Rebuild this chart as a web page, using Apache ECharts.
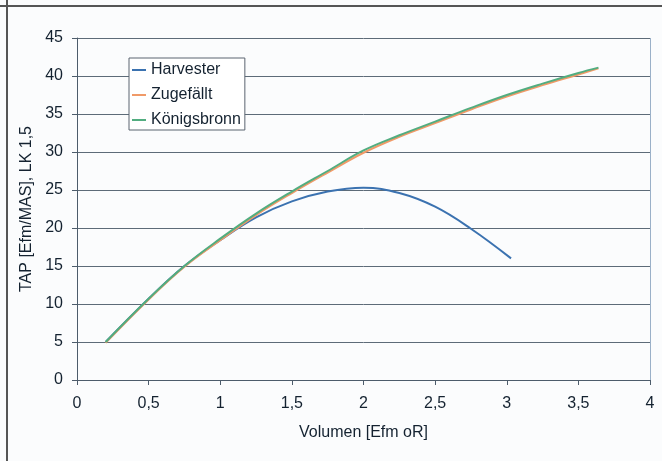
<!DOCTYPE html>
<html><head><meta charset="utf-8">
<script src="https://cdn.jsdelivr.net/npm/echarts@6/dist/echarts.min.js"></script>
<style>html,body{margin:0;padding:0;background:#fbfcfd}#c{width:662px;height:461px}</style>
</head><body><div id="c"></div>
<script>
const xTicks = [0, 0.5, 1, 1.5, 2, 2.5, 3, 3.5, 4];
const yTicks = [0, 5, 10, 15, 20, 25, 30, 35, 40, 45];
const seriesNames = ['Harvester', 'Zugefällt', 'Königsbronn'];
const harvesterX = [0.2, 0.5, 0.75, 1.0, 1.25, 1.5, 1.75, 2.0, 2.25, 2.5, 2.75, 3.03];
const harvesterY = [5.0, 10.7, 15.0, 18.4, 21.4, 23.5, 24.8, 25.3, 24.6, 22.8, 19.9, 16.0];
const zugefaelltX = [0.2, 0.5, 0.75, 1.0, 1.25, 1.5, 1.75, 2.0, 2.25, 2.5, 2.75, 3.0, 3.25, 3.5, 3.64];
const zugefaelltY = [4.9, 10.6, 14.9, 18.4, 21.7, 24.6, 27.3, 29.9, 32.0, 33.8, 35.6, 37.3, 38.8, 40.2, 41.0];
const koenigsbronnX = [0.2, 0.5, 0.75, 1.0, 1.25, 1.5, 1.75, 2.0, 2.25, 2.5, 2.75, 3.0, 3.25, 3.5, 3.64];
const koenigsbronnY = [5.0, 10.7, 15.0, 18.6, 21.9, 24.8, 27.5, 30.2, 32.2, 34.0, 35.8, 37.5, 39.0, 40.4, 41.1];

const colors = ['#3b72b0', '#f09a68', '#52ad80'];
const pair = (xs, ys) => xs.map((x, i) => [x, ys[i]]);
const fmt = v => String(v).replace('.', ',');
const txt = '#142230';
const font = 'Liberation Sans, Arial, sans-serif';

const chart = echarts.init(document.getElementById('c'), null, {renderer: 'canvas'});
chart.setOption({
  animation: false,
  backgroundColor: '#fbfcfd',
  color: colors,
  textStyle: {fontFamily: font},
  graphic: [
    {type: 'line', shape: {x1: 7, y1: 0, x2: 7, y2: 461}, style: {stroke: '#555', lineWidth: 2}},
    {type: 'line', shape: {x1: 0, y1: 6, x2: 662, y2: 6}, style: {stroke: '#555', lineWidth: 2}},
    {type: 'line', shape: {x1: 650.5, y1: 38, x2: 650.5, y2: 380}, style: {stroke: '#9ab0c8', lineWidth: 1}}
  ],
  grid: {left: 77, right: 12, top: 38, bottom: 81, containLabel: false},
  legend: {
    orient: 'vertical', left: 129, top: 58,
    padding: [4, 4, 2, 3],
    itemGap: 9, itemWidth: 14, itemHeight: 2, icon: 'rect',
    backgroundColor: '#ffffff', borderColor: '#5a6470', borderWidth: 1,
    textStyle: {fontSize: 16, color: txt, fontFamily: font},
    data: seriesNames
  },
  xAxis: {
    type: 'value', min: xTicks[0], max: xTicks[xTicks.length - 1], interval: 0.5,
    name: 'Volumen [Efm oR]', nameLocation: 'middle', nameGap: 45,
    nameTextStyle: {fontSize: 16, color: txt},
    axisLine: {show: true, lineStyle: {color: '#4d5c6b', width: 1}},
    axisTick: {show: true, length: 5, lineStyle: {color: '#4d5c6b'}},
    axisLabel: {fontSize: 16, color: txt, margin: 16, formatter: fmt},
    splitLine: {show: false}
  },
  yAxis: {
    type: 'value', min: yTicks[0], max: yTicks[yTicks.length - 1], interval: 5,
    name: 'TAP [Efm/MAS], LK 1,5', nameLocation: 'middle', nameGap: 40,
    nameTextStyle: {fontSize: 16, color: txt},
    axisLine: {show: true, lineStyle: {color: '#4d5c6b', width: 1}},
    axisTick: {show: true, length: 5, lineStyle: {color: '#4d5c6b'}},
    axisLabel: {fontSize: 16, color: txt, margin: 14, formatter: fmt},
    splitLine: {show: true, lineStyle: {color: '#5d6b78', width: 1}}
  },
  series: [
    {name: seriesNames[0], type: 'line', smooth: 0.4, symbol: 'none', data: pair(harvesterX, harvesterY), lineStyle: {width: 2}},
    {name: seriesNames[1], type: 'line', smooth: 0.4, symbol: 'none', data: pair(zugefaelltX, zugefaelltY), lineStyle: {width: 2}},
    {name: seriesNames[2], type: 'line', smooth: 0.4, symbol: 'none', data: pair(koenigsbronnX, koenigsbronnY), lineStyle: {width: 2}}
  ]
});
</script></body></html>
